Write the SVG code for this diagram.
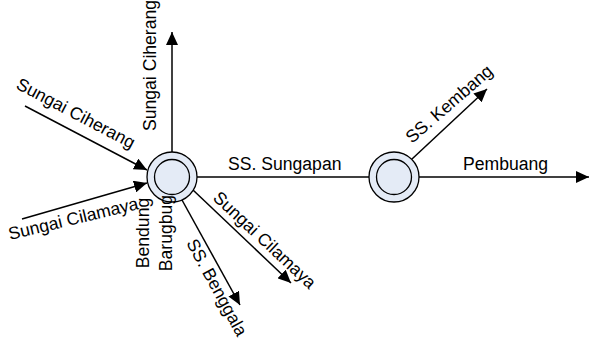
<svg xmlns="http://www.w3.org/2000/svg" width="589" height="338" viewBox="0 0 589 338">
<style>
.t{font-family:"Liberation Sans",Arial,sans-serif;font-size:17.6px;fill:#000}
.c{stroke:#000;stroke-width:1.5;fill:none}
.o{fill:#e4ebf6;stroke:#000;stroke-width:1.3}
.i{fill:#e4ebf6;stroke:#000;stroke-width:1.3}
</style>
<defs>
<marker id="arr" viewBox="0 0 13 12" refX="13" refY="6" markerWidth="13" markerHeight="12" markerUnits="userSpaceOnUse" orient="auto">
<path d="M0,0 L13,6 L0,12 z" fill="#000"/>
</marker>
</defs>
<rect width="589" height="338" fill="#fff"/>
<g id="connectors">
<line class="c" x1="172" y1="152" x2="172" y2="32" marker-end="url(#arr)"/>
<line class="c" x1="25" y1="106" x2="147" y2="170" marker-end="url(#arr)"/>
<line class="c" x1="22" y1="219" x2="147" y2="183" marker-end="url(#arr)"/>
<line class="c" x1="197" y1="177" x2="369" y2="177"/>
<line class="c" x1="419" y1="177" x2="589" y2="177" marker-end="url(#arr)"/>
<line class="c" x1="412" y1="159" x2="487" y2="89" marker-end="url(#arr)"/>
<line class="c" x1="182" y1="200" x2="240" y2="305" marker-end="url(#arr)"/>
<line class="c" x1="193" y1="190" x2="291" y2="283" marker-end="url(#arr)"/>
</g>
<g id="node-barugbug">
<circle class="o" cx="172" cy="177" r="25"/>
<circle class="i" cx="172" cy="177" r="17.5"/>
</g>
<g id="node-2">
<circle class="o" cx="394" cy="177" r="25"/>
<circle class="i" cx="394" cy="177" r="17.5"/>
</g>
<g id="labels">
<text class="t" transform="translate(156,131) rotate(-90)">Sungai Ciherang</text>
<text class="t" transform="translate(15,88) rotate(27.7)">Sungai Ciherang</text>
<text class="t" transform="translate(10,240) rotate(-13.5)">Sungai Cilamaya</text>
<text class="t" x="228" y="170">SS. Sungapan</text>
<text class="t" x="463" y="170">Pembuang</text>
<text class="t" transform="translate(412,144) rotate(-41)">SS. Kembang</text>
<text class="t" transform="translate(186,243) rotate(61.5)">SS. Benggala</text>
<text class="t" transform="translate(212,199) rotate(43)">Sungai Cilamaya</text>
<text class="t" text-anchor="middle" transform="translate(148.5,233) rotate(-90)">Bendung</text>
<text class="t" text-anchor="middle" transform="translate(171.5,233) rotate(-90)">Barugbug</text>
</g>
</svg>
